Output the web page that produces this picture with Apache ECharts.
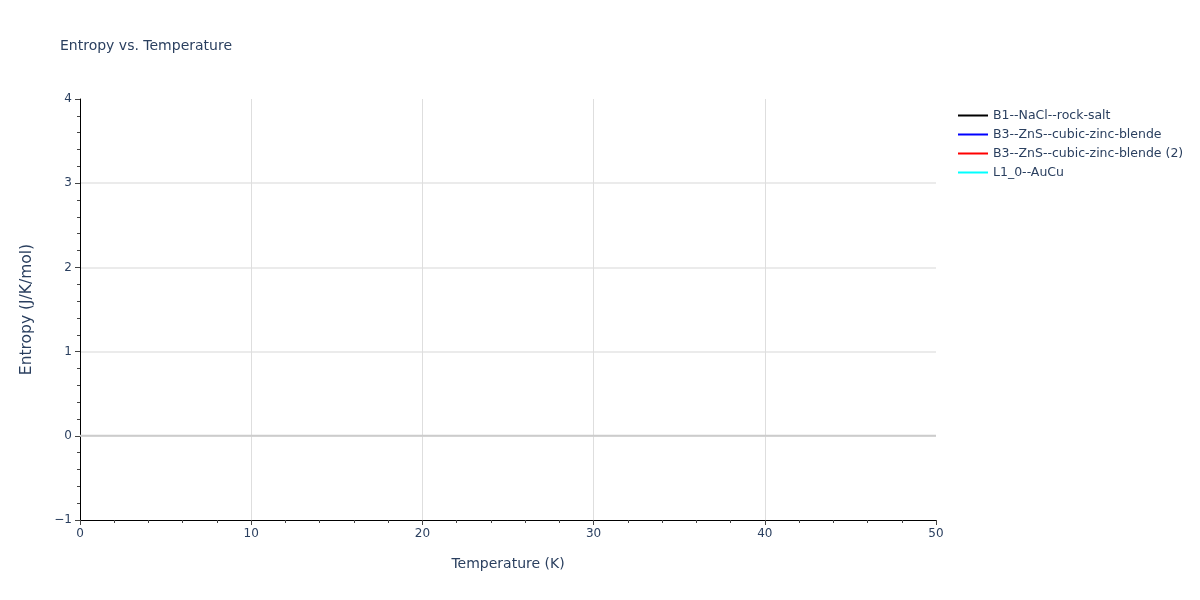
<!DOCTYPE html>
<html>
<head>
<meta charset="utf-8">
<script src="https://cdn.jsdelivr.net/npm/echarts@6/dist/echarts.min.js"></script>
<style>html,body{margin:0;padding:0;background:#fff;}#c{width:1200px;height:600px;}</style>
</head>
<body>
<div id="c"></div>
<script>
// Data (the reference shows no visible curves in range)
const seriesNames = ['B1--NaCl--rock-salt', 'B3--ZnS--cubic-zinc-blende', 'B3--ZnS--cubic-zinc-blende (2)', 'L1_0--AuCu'];
const seriesColors = ['#000000', '#0000ff', '#ff0000', '#00ffff'];
const nacl = [];
const znsA = [];
const znsB = [];
const aucu = [];
const seriesData = [nacl, znsA, znsB, aucu];
const xRange = [0, 50];
const yRange = [-1, 4];
const zeroLine = [[0, 0], [50, 0]];

const font = '"DejaVu Sans", Verdana, sans-serif';
const txt = '#2a3f5f';
const chart = echarts.init(document.getElementById('c'));
const series = seriesNames.map((n, i) => ({
  name: n, type: 'line', data: seriesData[i], showSymbol: false,
  color: seriesColors[i], lineStyle: {width: 2, color: seriesColors[i]}
}));
series.unshift({
  name: '_zero', type: 'line', data: zeroLine, showSymbol: false, silent: true,
  lineStyle: {color: '#cccccc', width: 2}, z: 1
});
chart.setOption({
  animation: false,
  title: {text: 'Entropy vs. Temperature', left: 60, top: 39, padding: 0,
    textStyle: {fontFamily: font, fontSize: 14, fontWeight: 'normal', color: txt}},
  legend: {
    data: seriesNames, orient: 'vertical', left: 953, top: 104, itemGap: 6,
    itemWidth: 30, itemHeight: 2, icon: 'rect',
    textStyle: {fontFamily: font, fontSize: 12.5, color: txt, padding: [0,0,0,0], lineHeight: 13}
  },
  grid: {left: 80, right: 264, top: 99, bottom: 80, containLabel: false},
  xAxis: {
    type: 'value', min: xRange[0], max: xRange[1], interval: 10,
    name: 'Temperature (K)', nameLocation: 'middle', nameGap: 37,
    nameTextStyle: {fontFamily: font, fontSize: 14, color: txt},
    axisLine: {onZero: false, lineStyle: {color: '#000', width: 1}},
    axisTick: {show: true, length: 5, lineStyle: {color: '#444'}},
    minorTick: {show: true, splitNumber: 5, length: 3, lineStyle: {color: '#444'}},
    axisLabel: {fontFamily: font, fontSize: 12, color: txt, margin: 8},
    splitLine: {show: true, showMinLine: false, showMaxLine: false, lineStyle: {color: '#dedede', width: 1}}
  },
  yAxis: {
    type: 'value', min: yRange[0], max: yRange[1], interval: 1,
    name: 'Entropy (J/K/mol)', nameLocation: 'middle', nameGap: 45,
    nameTextStyle: {fontFamily: font, fontSize: 15.5, color: txt},
    axisLine: {show: true, onZero: false, lineStyle: {color: '#000', width: 1}},
    axisTick: {show: true, length: 5, lineStyle: {color: '#444'}},
    minorTick: {show: true, splitNumber: 5, length: 3, lineStyle: {color: '#444'}},
    axisLabel: {fontFamily: font, fontSize: 12, color: txt, margin: 8,
      formatter: v => String(v).replace('-', '\u2212')},
    splitLine: {show: true, showMinLine: false, showMaxLine: false, lineStyle: {color: '#ebebeb', width: 2}}
  },
  series: series
});
</script>
</body>
</html>
